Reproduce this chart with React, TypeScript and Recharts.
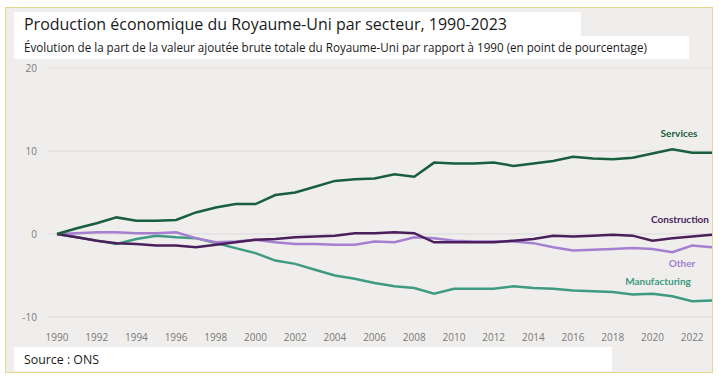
import { CartesianGrid, Line, LineChart, XAxis, YAxis } from 'recharts';

const years = [
  1990, 1991, 1992, 1993, 1994, 1995, 1996, 1997, 1998, 1999, 2000, 2001, 2002, 2003, 2004, 2005, 2006,
  2007, 2008, 2009, 2010, 2011, 2012, 2013, 2014, 2015, 2016, 2017, 2018, 2019, 2020, 2021, 2022, 2023,
];
const services = [
  0, 0.7, 1.3, 2.0, 1.6, 1.6, 1.7, 2.6, 3.2, 3.6, 3.6, 4.7, 5.0, 5.7, 6.4, 6.6, 6.7, 7.2, 6.9, 8.6, 8.5,
  8.5, 8.6, 8.2, 8.5, 8.8, 9.3, 9.1, 9.0, 9.2, 9.7, 10.2, 9.8, 9.8,
];
const construction = [
  0, -0.4, -0.8, -1.1, -1.2, -1.4, -1.4, -1.6, -1.3, -1.0, -0.7, -0.6, -0.4, -0.3, -0.2, 0.1, 0.1, 0.2,
  0.1, -1.0, -1.0, -1.0, -1.0, -0.8, -0.6, -0.2, -0.3, -0.2, -0.1, -0.2, -0.8, -0.5, -0.3, -0.1,
];
const other = [
  0, 0.1, 0.2, 0.2, 0.1, 0.1, 0.2, -0.5, -1.0, -0.9, -0.7, -1.0, -1.2, -1.2, -1.3, -1.3, -0.9, -1.0,
  -0.4, -0.5, -0.8, -0.9, -0.9, -0.9, -1.1, -1.6, -2.0, -1.9, -1.8, -1.7, -1.8, -2.2, -1.4, -1.6,
];
const manufacturing = [
  0, -0.4, -0.8, -1.2, -0.6, -0.2, -0.4, -0.5, -1.1, -1.7, -2.3, -3.2, -3.6, -4.3, -5.0, -5.4, -5.9,
  -6.3, -6.5, -7.2, -6.6, -6.6, -6.6, -6.3, -6.5, -6.6, -6.8, -6.9, -7.0, -7.3, -7.2, -7.5, -8.1, -8.0,
];
const xTicks = [1990, 1992, 1994, 1996, 1998, 2000, 2002, 2004, 2006, 2008, 2010, 2012, 2014, 2016, 2018, 2020, 2022];
const yTicks = [-10, 0, 10, 20];

const data = years.map((year, i) => ({
  year,
  services: services[i],
  construction: construction[i],
  other: other[i],
  manufacturing: manufacturing[i],
}));

const last = years.length - 1;

function endLabel(text: string, color: string, dx: number, dy: number) {
  return (props: any) => {
    if (props.index !== last) return null;
    return (
      <text
        x={props.x + dx}
        y={props.y + dy}
        textAnchor="middle"
        dominantBaseline="central"
        fill={color}
        fontFamily="Lato"
        fontWeight={700}
        fontSize={10}
      >
        {text}
      </text>
    );
  };
}

const box = (left: number, top: number, width: number, height: number): React.CSSProperties => ({
  position: 'absolute',
  left,
  top,
  width,
  height,
  background: '#ffffff',
});

const squeezed = (scale: number): React.CSSProperties => ({
  position: 'absolute',
  left: 10,
  top: 0,
  whiteSpace: 'nowrap',
  transform: `scaleX(${scale})`,
  transformOrigin: 'left center',
});

export default function App() {
  return (
    <div
      style={{
        position: 'absolute',
        left: 0,
        top: 0,
        width: 725,
        height: 379,
        background: '#ffffff',
        fontFamily: '"Open Sans"',
        color: '#1a1a1a',
      }}
    >
      <div
        style={{
          position: 'absolute',
          left: 5,
          top: 7,
          width: 706,
          height: 364,
          border: '1px solid #e8d68c',
          background: '#efeeec',
        }}
      />
      <div style={box(14, 12, 567, 24)}>
        <div style={{ ...squeezed(0.94), fontSize: 17, lineHeight: '24px' }}>
          Production économique du Royaume-Uni par secteur, 1990-2023
        </div>
      </div>
      <div style={box(14, 36, 675, 23)}>
        <div style={{ ...squeezed(0.93), fontSize: 12.5, lineHeight: '23px' }}>
          Évolution de la part de la valeur ajoutée brute totale du Royaume-Uni par rapport à 1990 (en point de pourcentage)
        </div>
      </div>
      <div style={{ position: 'absolute', left: 0, top: 0 }}>
        <LineChart width={725} height={379} data={data} margin={{ top: 68, right: 13, bottom: 32, left: 8 }}>
          <CartesianGrid vertical={false} stroke="#dcdbd9" />
          <XAxis
            dataKey="year"
            type="number"
            domain={[1990, 2023]}
            ticks={xTicks}
            padding={{ left: 9, right: 0 }}
            axisLine={false}
            tickLine={false}
            tickSize={8}
            tickMargin={9}
            height={30}
            tick={{ fill: '#7a7a7a', fontSize: 10, fontFamily: 'Open Sans' }}
            interval={0}
          />
          <YAxis
            domain={[-10, 20]}
            ticks={yTicks}
            width={40}
            axisLine={false}
            tickLine={false}
            tickSize={6}
            tickMargin={5}
            tick={{ fill: '#7a7a7a', fontSize: 10, fontFamily: 'Open Sans' }}
          />
          <Line
            dataKey="manufacturing"
            stroke="#3f9a84"
            strokeWidth={2.5}
            dot={false}
            type="linear"
            isAnimationActive={false}
            label={endLabel('Manufacturing', '#3f9a84', -54, -19)}
          />
          <Line
            dataKey="other"
            stroke="#a57fd0"
            strokeWidth={2.5}
            dot={false}
            type="linear"
            isAnimationActive={false}
            label={endLabel('Other', '#a57fd0', -30, 16)}
          />
          <Line
            dataKey="construction"
            stroke="#4a1f5c"
            strokeWidth={2.5}
            dot={false}
            type="linear"
            isAnimationActive={false}
            label={endLabel('Construction', '#4a1f5c', -32, -16)}
          />
          <Line
            dataKey="services"
            stroke="#1a5e40"
            strokeWidth={2.5}
            dot={false}
            type="linear"
            isAnimationActive={false}
            label={endLabel('Services', '#1a5e40', -33, -20)}
          />
        </LineChart>
      </div>
      <div style={box(14, 347, 598, 24)}>
        <div style={{ ...squeezed(0.95), fontSize: 13, lineHeight: '24px' }}>
          Source : ONS
        </div>
      </div>
    </div>
  );
}
